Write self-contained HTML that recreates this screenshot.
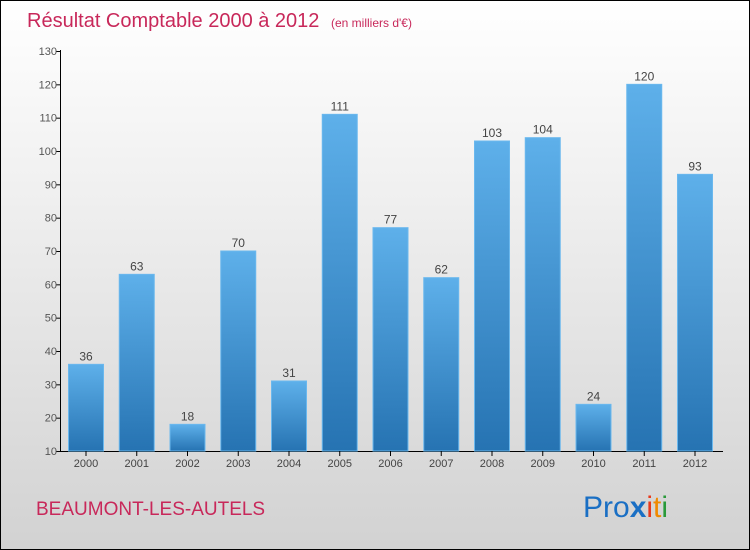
<!DOCTYPE html>
<html><head><meta charset="utf-8"><style>
body{margin:0}
#c{width:748px;height:548px;border:1px solid #000;background:linear-gradient(#ffffff,#f2f2f2 30%,#d2d2d2);position:relative;overflow:hidden;font-family:"Liberation Sans",sans-serif}
</style></head><body>
<div id="c">
<svg id="s" width="748" height="548" xmlns="http://www.w3.org/2000/svg">
<defs><linearGradient id="g" x1="0" y1="0" x2="0" y2="1"><stop offset="0" stop-color="#5eb0ea"/><stop offset="1" stop-color="#2673b2"/></linearGradient></defs>
<text x="26" y="26" font-size="20" fill="#c8285a">Résultat Comptable 2000 à 2012 <tspan font-size="12" dx="6">(en milliers d'€)</tspan></text>
<text x="35" y="514" font-size="19" fill="#c8285a">BEAUMONT-LES-AUTELS</text>
<text x="582" y="516" font-size="30"><tspan fill="#1a6fc4">Pro</tspan><tspan fill="#1a6fc4" font-weight="bold">x</tspan><tspan fill="#e8391c">i</tspan><tspan fill="#f08a00">t</tspan><tspan fill="#2a9a3a">i</tspan></text>
<g id="plot"></g>
</svg>
</div>
<script>
const categories=["2000","2001","2002","2003","2004","2005","2006","2007","2008","2009","2010","2011","2012"];
const values=[36,63,18,70,31,111,77,62,103,104,24,120,93];
const ticks=[10,20,30,40,50,60,70,80,90,100,110,120,130];
const NS="http://www.w3.org/2000/svg";
const g=document.getElementById('plot');
const y=v=>450-(v-10)*(400/120);
const x=i=>85+i*50.75;
function el(t,a){const e=document.createElementNS(NS,t);for(const k in a)e.setAttribute(k,a[k]);g.appendChild(e);return e;}
const ya=el('line',{x1:59.5,y1:49,x2:59.5,y2:451,stroke:'#000'});


const xa=el('line',{x1:59,y1:450.5,x2:722,y2:450.5,stroke:'#000'});


ticks.forEach(t=>{
  const l=el('line',{x1:55,x2:60,y1:y(t)+.5,y2:y(t)+.5,stroke:'#000'});
  
  
  const tx=el('text',{x:56,y:y(t)+4,'font-size':11,fill:'#555','text-anchor':'end'});
  tx.textContent=t;
  
  
});
categories.forEach((c,i)=>{
  const v=values[i];
  const r=el('rect',{x:x(i)-17.5,y:y(v),width:35,height:450-y(v),fill:'url(#g)',stroke:'#6ab8ee','stroke-width':1});
  
  
  const vl=el('text',{x:x(i),y:y(v)-4,'font-size':12,fill:'#444','text-anchor':'middle'});
  vl.textContent=v;
  
  
  const tk=el('line',{x1:x(i),x2:x(i),y1:450,y2:455,stroke:'#000'});
  
  
  const cl=el('text',{x:x(i),y:466,'font-size':11,fill:'#444','text-anchor':'middle'});
  cl.textContent=c;
  
  
});
</script>
</body></html>
